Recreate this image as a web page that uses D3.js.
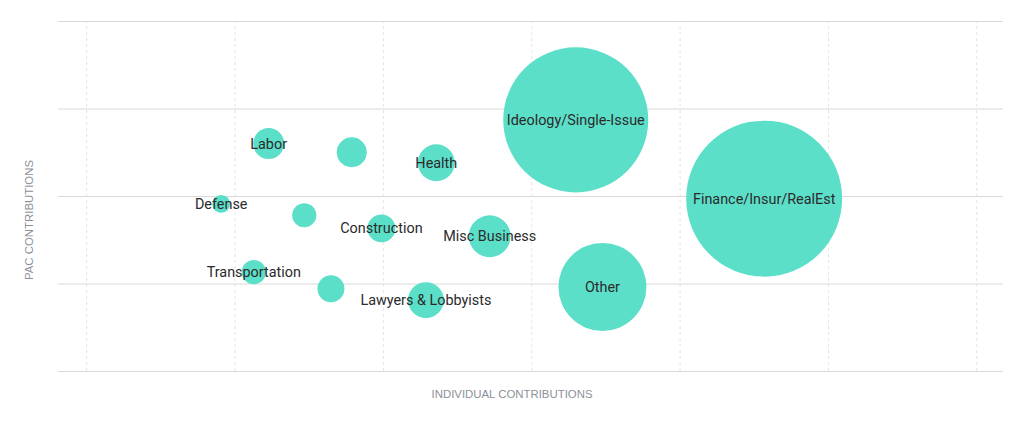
<!DOCTYPE html>
<html>
<head>
<meta charset="utf-8">
<script src="https://cdn.jsdelivr.net/npm/d3@7"></script>
<style>
  html, body { margin: 0; padding: 0; background: #fff; }
  .grid-y line { stroke: #d9d9d9; stroke-width: 1; }
  .grid-x line { stroke: #e4e4e4; stroke-width: 1; stroke-dasharray: 3,3; }
  .axis-title { font-family: "Liberation Sans", Arial, sans-serif; font-size: 11.4px; fill: #8c9099; }
  .bubble-label { font-family: Roboto, sans-serif; font-size: 14.4px; fill: #2b2b2b; }
</style>
</head>
<body>
<div id="chart"></div>
<script>
// industries (units are grid steps, no tick labels shown)
var sectors = ["Labor", "", "Health", "Defense", "", "Construction", "Misc Business",
  "Transportation", "", "Lawyers & Lobbyists", "Ideology/Single-Issue", "Other", "Finance/Insur/RealEst"];
var individual = [1.23, 1.79, 2.36, 0.91, 1.47, 1.99, 2.72, 1.13, 1.65, 2.29, 3.30, 3.48, 4.57];
var pac = [2.60, 2.50, 2.38, 1.91, 1.78, 1.63, 1.54, 1.13, 0.94, 0.81, 2.87, 0.96, 1.97];
var total = [3.9, 3.7, 5.6, 1.3, 2.4, 3.2, 7.2, 2.4, 3.0, 5.3, 86.4, 31.8, 100];

var xTicks = [0, 1, 2, 3, 4, 5, 6];
var yTicks = [0, 1, 2, 3, 4];

var width = 1024, height = 423;
var margin = { top: 21, right: 21, bottom: 52, left: 58 };
var innerW = width - margin.left - margin.right;
var innerH = height - margin.top - margin.bottom;

var svg = d3.select("#chart").append("svg")
  .attr("width", width)
  .attr("height", height);

var g = svg.append("g")
  .attr("transform", "translate(" + margin.left + "," + margin.top + ")");

var xScale = d3.scaleLinear()
  .domain([-0.19, 6.18])
  .range([0, innerW]);

var yScale = d3.scaleLinear()
  .domain([0, 4])
  .range([innerH, 0]);

var rScale = d3.scaleSqrt()
  .domain([0, d3.max(total)])
  .range([0, 78]);

// vertical dashed grid
g.append("g")
  .attr("class", "grid-x")
  .attr("transform", "translate(0," + innerH + ")")
  .call(d3.axisBottom(xScale).tickValues(xTicks).tickSize(-innerH).tickFormat(""))
  .call(function(s) { s.select(".domain").remove(); });

// horizontal grid
g.append("g")
  .attr("class", "grid-y")
  .call(d3.axisLeft(yScale).tickValues(yTicks).tickSize(-innerW).tickFormat(""))
  .call(function(s) { s.select(".domain").remove(); });

var data = sectors.map(function(name, i) {
  return { name: name, x: individual[i], y: pac[i], size: total[i] };
});

g.selectAll("circle.bubble")
  .data(data)
  .enter()
  .append("circle")
  .attr("class", "bubble")
  .attr("cx", function(d) { return xScale(d.x); })
  .attr("cy", function(d) { return yScale(d.y); })
  .attr("r", function(d) { return rScale(d.size); })
  .attr("fill", "#5cdfc9");

g.selectAll("text.bubble-label")
  .data(data.filter(function(d) { return d.name !== ""; }))
  .enter()
  .append("text")
  .attr("class", "bubble-label")
  .attr("x", function(d) { return xScale(d.x); })
  .attr("y", function(d) { return yScale(d.y); })
  .attr("dy", "0.35em")
  .attr("text-anchor", "middle")
  .text(function(d) { return d.name; });

// axis titles
svg.append("text")
  .attr("class", "axis-title")
  .attr("x", 512)
  .attr("y", 398)
  .attr("text-anchor", "middle")
  .text("INDIVIDUAL CONTRIBUTIONS");

svg.append("text")
  .attr("class", "axis-title")
  .attr("transform", "translate(33,220) rotate(-90)")
  .attr("text-anchor", "middle")
  .text("PAC CONTRIBUTIONS");
</script>
</body>
</html>
